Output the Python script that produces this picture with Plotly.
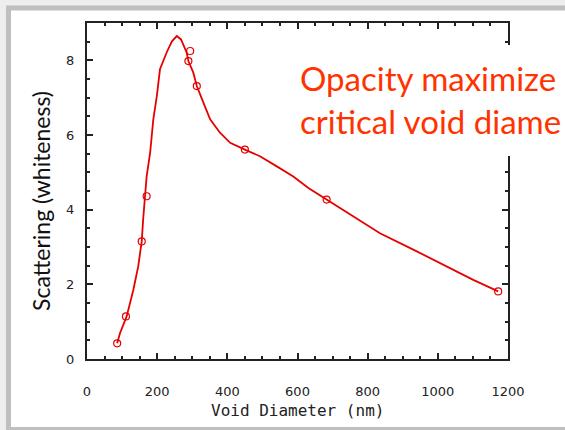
import plotly.graph_objects as go

# Curve (Void diameter nm, scattering)
diam = [86, 94, 113, 132, 146, 156, 160, 165, 170, 180, 189, 199, 208, 227, 242, 256,
        268, 284, 289, 303, 313, 332, 351, 379, 408, 450, 493, 541, 588, 631, 683,
        759, 835, 930, 1006, 1101, 1172]
scatter = [0.42, 0.69, 1.14, 1.85, 2.48, 3.15, 3.73, 4.27, 4.89, 5.53, 6.42, 7.04, 7.76,
           8.21, 8.51, 8.65, 8.56, 8.21, 7.98, 7.67, 7.31, 6.86, 6.42, 6.06, 5.79, 5.61,
           5.43, 5.16, 4.89, 4.58, 4.27, 3.82, 3.37, 2.93, 2.57, 2.12, 1.81]

# Measured points (open circles)
pt_diam = [86, 111, 156, 170, 294, 289, 313, 450, 683, 1172]
pt_scatter = [0.42, 1.14, 3.15, 4.36, 8.25, 7.98, 7.31, 5.61, 4.27, 1.81]

x_ticks = [0, 200, 400, 600, 800, 1000, 1200]
y_ticks = [0, 2, 4, 6, 8]

RED = "#e60000"
W, H = 565, 430
L, R, T, B = 87, 57, 23, 71
PW, PH = W - L - R, H - T - B


def px(x):
    return (x - L) / PW


def py(y):
    return (H - B - y) / PH


fig = go.Figure()
fig.add_trace(go.Scatter(x=diam, y=scatter, mode="lines",
                         line=dict(color=RED, width=1.8), showlegend=False))
fig.add_trace(go.Scatter(x=pt_diam, y=pt_scatter, mode="markers",
                         marker=dict(symbol="circle-open", size=7, color=RED,
                                     line=dict(width=1.2, color=RED)),
                         showlegend=False))

axis_common = dict(
    showline=True, linecolor="#222222", linewidth=2, mirror="allticks",
    ticks="inside", ticklen=6, tickwidth=1.5, tickcolor="#222222",
    showgrid=False, zeroline=False, automargin=False,
    tickfont=dict(family="DejaVu Sans", size=13, color="#222222"),
)

fig.update_xaxes(range=[0, 1200], tickvals=x_ticks, ticklabelstandoff=19,
                 minor=dict(dtick=50, ticks="inside", ticklen=3, tickcolor="#222222", tickwidth=1.5),
                 **axis_common)
fig.update_yaxes(range=[0, 9], tickvals=y_ticks, ticklabelstandoff=8,
                 minor=dict(dtick=0.5, ticks="inside", ticklen=3, tickcolor="#222222", tickwidth=1.5),
                 **axis_common)

shapes = [
    # slide background with grey border
    dict(type="rect", xref="paper", yref="paper", layer="below",
         x0=px(8.5), x1=px(620), y0=py(429.5), y1=py(8),
         fillcolor="white", line=dict(color="#bfbfbf", width=5)),
    # white text box covering the right axis
    dict(type="rect", xref="paper", yref="paper", layer="above",
         x0=px(293), x1=px(620), y0=py(156), y1=py(45),
         fillcolor="white", line=dict(width=0)),
]

annotations = [
    dict(text="Opacity maximize<br>critical void diame", xref="paper", yref="paper",
         x=px(298), y=py(56), xanchor="left", yanchor="top", align="left", showarrow=False,
         font=dict(family="Lato", size=33, color="#ff3300")),
    dict(text="Scattering (whiteness)", xref="paper", yref="paper",
         x=px(41), y=py(201), xanchor="center", yanchor="middle", textangle=-90,
         showarrow=False, font=dict(family="Lato", size=23, color="#111111")),
    dict(text="Void Diameter (nm)", xref="paper", yref="paper",
         x=px(297), y=py(411), xanchor="center", yanchor="middle",
         showarrow=False, font=dict(family="DejaVu Sans Mono", size=16, color="#222222")),
]

fig.update_layout(width=W, height=H, margin=dict(l=L, r=R, t=T, b=B),
                  paper_bgcolor="#eeeeee", plot_bgcolor="white",
                  shapes=shapes, annotations=annotations, showlegend=False)

fig.write_html("out.html", config={"displayModeBar": False},
               post_script="document.body.style.margin='0';document.body.style.overflow='hidden';")
